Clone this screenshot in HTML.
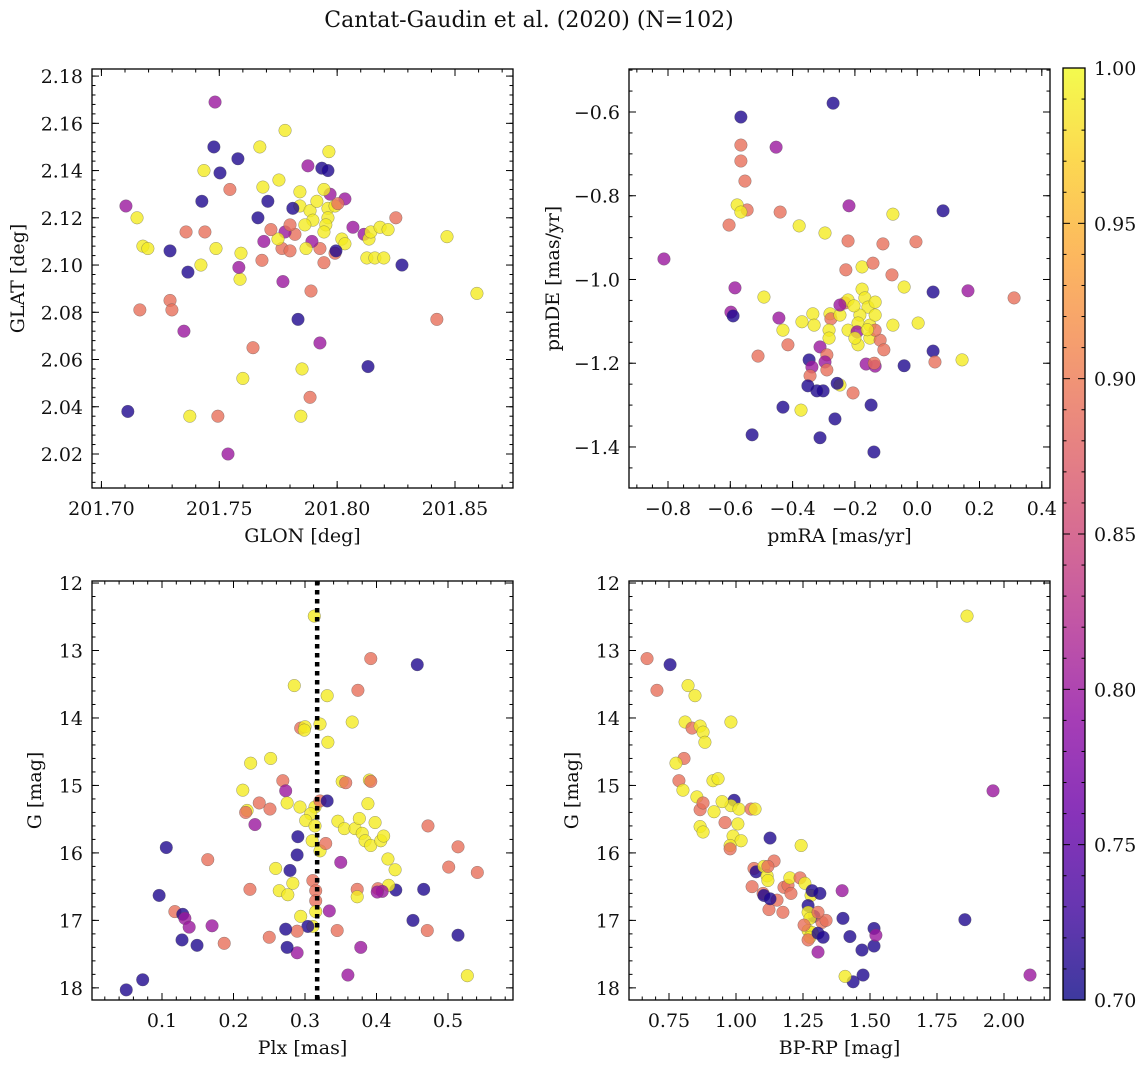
<!DOCTYPE html>
<html><head><meta charset="utf-8">
<style>
html,body{margin:0;padding:0;background:#fff;}
svg{display:block;font-family:"DejaVu Serif","Liberation Serif",serif;}
</style></head>
<body>
<svg id="fig" width="1148" height="1067" viewBox="0 0 1148 1067" xmlns="http://www.w3.org/2000/svg">
<text x="529" y="27" font-size="22" text-anchor="middle" fill="#111">Cantat-Gaudin et al. (2020) (N=102)</text>
</svg>
<script>
// ---- Panel 1: GLON vs GLAT ----
const glon=[201.7482,201.7477,201.7503,201.7579,201.7435,201.7426,201.7672,201.7779,201.7876,201.7935,201.7685,201.7753,201.7545,201.7104,201.7151,201.7176,201.7197,201.7291,201.7359,201.7439,201.7486,201.7422,201.7367,201.7592,201.7588,201.7583,201.7163,201.7291,201.7299,201.7350,201.7112,201.7375,201.7494,201.7537,201.7600,201.7643,201.7846,201.7885,201.7851,201.7834,201.7889,201.7927,201.7770,201.8131,201.8423,201.8593,201.8466,201.8275,201.8249,201.8126,201.8160,201.8114,201.8033,201.8067,201.8020,201.7970,201.7961,201.7965,201.7961,201.7991,201.7944,201.7927,201.7842,201.7842,201.7812,201.7885,201.7897,201.7863,201.7821,201.7779,201.7766,201.7800,201.7706,201.7664,201.7689,201.7749,201.7719,201.7681,201.7991,201.7961,201.7952,201.7944,201.8033,201.7893,201.7868,201.7995,201.8135,201.8143,201.8182,201.8216,201.8198,201.7800,201.7944,201.8003,201.7914];
const glat=[2.169,2.150,2.139,2.145,2.140,2.127,2.150,2.157,2.142,2.141,2.133,2.136,2.132,2.125,2.120,2.108,2.107,2.106,2.114,2.114,2.107,2.100,2.097,2.105,2.094,2.099,2.081,2.085,2.081,2.072,2.038,2.036,2.036,2.020,2.052,2.065,2.036,2.044,2.056,2.077,2.089,2.067,2.093,2.057,2.077,2.088,2.112,2.100,2.120,2.103,2.103,2.113,2.128,2.116,2.111,2.130,2.124,2.148,2.140,2.105,2.101,2.107,2.131,2.125,2.124,2.123,2.119,2.117,2.113,2.114,2.107,2.106,2.127,2.120,2.110,2.111,2.115,2.102,2.125,2.120,2.117,2.114,2.109,2.110,2.107,2.106,2.111,2.114,2.116,2.115,2.103,2.117,2.132,2.126,2.127];
const prob1=[.80,.71,.71,.71,.99,.71,.99,.99,.80,.71,.99,.99,.89,.80,.99,.99,.99,.71,.89,.89,.99,.99,.71,.99,.99,.80,.89,.89,.89,.80,.71,.99,.89,.80,.99,.89,.99,.89,.99,.71,.89,.80,.80,.71,.89,.99,.99,.71,.89,.99,.99,.80,.80,.80,.99,.80,.99,.99,.71,.89,.89,.89,.99,.99,.71,.99,.99,.99,.89,.80,.89,.89,.71,.71,.80,.99,.89,.89,.99,.99,.99,.99,.99,.80,.99,.71,.99,.99,.99,.99,.99,.89,.99,.89,.99];
// ---- Panel 2: pmRA vs pmDE ----
const pmra=[-0.566,-0.270,-0.453,-0.566,-0.566,-0.553,-0.546,-0.578,-0.566,-0.604,-0.440,-0.379,-0.296,-0.219,-0.078,0.083,-0.813,-0.222,-0.110,-0.004,-0.229,-0.177,-0.142,-0.081,-0.585,-0.042,-0.177,-0.168,-0.158,-0.135,-0.184,-0.190,-0.152,0.163,0.311,0.051,-0.492,-0.598,-0.591,-0.444,-0.431,-0.415,-0.511,-0.335,-0.331,-0.370,-0.280,-0.277,-0.248,-0.232,-0.222,-0.193,-0.152,-0.190,-0.119,-0.107,-0.078,0.003,-0.135,-0.135,-0.312,-0.290,-0.283,-0.296,-0.347,-0.338,-0.290,-0.302,-0.322,-0.248,-0.257,-0.344,-0.373,-0.431,-0.351,-0.164,-0.135,-0.138,-0.206,-0.148,-0.530,-0.312,-0.264,-0.139,-0.042,0.051,0.057,0.144,-0.222,-0.203,-0.248,-0.283,-0.200,-0.160];
const pmde=[-0.612,-0.579,-0.684,-0.679,-0.717,-0.765,-0.834,-0.822,-0.839,-0.870,-0.839,-0.872,-0.889,-0.824,-0.844,-0.836,-0.951,-0.908,-0.915,-0.910,-0.977,-0.970,-0.961,-0.989,-1.020,-1.018,-1.023,-1.044,-1.066,-1.054,-1.085,-1.104,-1.109,-1.027,-1.044,-1.030,-1.042,-1.078,-1.087,-1.092,-1.121,-1.156,-1.183,-1.082,-1.109,-1.101,-1.082,-1.094,-1.085,-1.056,-1.121,-1.125,-1.140,-1.156,-1.145,-1.168,-1.109,-1.104,-1.085,-1.121,-1.161,-1.180,-1.121,-1.197,-1.192,-1.209,-1.216,-1.266,-1.266,-1.252,-1.248,-1.230,-1.312,-1.305,-1.254,-1.202,-1.207,-1.200,-1.271,-1.300,-1.371,-1.378,-1.333,-1.412,-1.206,-1.171,-1.197,-1.192,-1.049,-1.063,-1.061,-1.140,-1.140,-1.120];
const prob2=[.71,.71,.80,.89,.89,.89,.89,.99,.99,.89,.89,.99,.99,.80,.99,.71,.80,.89,.89,.89,.89,.99,.89,.89,.80,.99,.99,.99,.99,.99,.99,.99,.99,.80,.89,.71,.99,.80,.71,.80,.99,.89,.89,.99,.99,.99,.99,.89,.99,.89,.99,.80,.99,.99,.89,.89,.99,.99,.99,.89,.80,.89,.99,.80,.71,.80,.89,.71,.71,.99,.71,.89,.99,.71,.71,.80,.80,.89,.89,.71,.71,.71,.71,.71,.71,.71,.89,.99,.99,.99,.80,.99,.99,.99];
// ---- Panel 3: Plx vs G ----
const plx=[0.313,0.457,0.392,0.285,0.374,0.331,0.294,0.300,0.299,0.321,0.366,0.332,0.224,0.252,0.269,0.273,0.213,0.236,0.275,0.219,0.217,0.230,0.251,0.314,0.308,0.301,0.293,0.321,0.331,0.310,0.290,0.321,0.329,0.314,0.352,0.357,0.346,0.355,0.370,0.376,0.388,0.380,0.384,0.392,0.406,0.398,0.410,0.390,0.392,0.472,0.514,0.501,0.541,0.426,0.416,0.427,0.417,0.402,0.408,0.466,0.401,0.373,0.373,0.350,0.289,0.259,0.279,0.283,0.264,0.276,0.223,0.164,0.106,0.187,0.311,0.315,0.315,0.315,0.311,0.294,0.334,0.304,0.289,0.273,0.289,0.275,0.250,0.345,0.378,0.360,0.451,0.471,0.514,0.527,0.118,0.129,0.132,0.138,0.170,0.128,0.149,0.096,0.073,0.050];
const gmag3=[12.49,13.21,13.12,13.52,13.59,13.67,14.15,14.13,14.18,14.09,14.06,14.36,14.67,14.60,14.93,15.08,15.07,15.26,15.26,15.37,15.40,15.58,15.35,15.32,15.42,15.52,15.32,15.23,15.23,15.82,15.76,15.97,15.86,15.60,14.94,14.96,15.53,15.64,15.64,15.49,15.27,15.71,15.82,15.89,15.82,15.55,15.75,14.92,14.94,15.60,15.91,16.21,16.29,16.25,16.09,16.55,16.48,16.53,16.57,16.54,16.58,16.54,16.65,16.14,16.03,16.23,16.26,16.45,16.56,16.62,16.54,16.10,15.92,17.34,16.41,16.56,16.71,16.87,17.09,16.94,16.86,17.09,17.16,17.13,17.48,17.40,17.25,17.15,17.40,17.81,17.00,17.15,17.22,17.82,16.87,16.91,16.97,17.10,17.08,17.29,17.37,16.63,17.88,18.03];
const prob3=[.99,.71,.89,.99,.89,.99,.89,.99,.99,.99,.99,.99,.99,.99,.89,.80,.99,.89,.99,.99,.89,.80,.89,.99,.99,.99,.99,.89,.71,.99,.71,.99,.89,.99,.99,.89,.99,.99,.99,.99,.99,.99,.99,.99,.99,.99,.99,.99,.89,.89,.89,.89,.89,.99,.99,.71,.99,.89,.80,.71,.80,.89,.99,.80,.71,.99,.71,.99,.99,.99,.89,.89,.71,.89,.89,.89,.89,.99,.99,.99,.80,.71,.89,.71,.80,.71,.89,.89,.80,.80,.71,.89,.71,.99,.89,.71,.80,.80,.80,.71,.71,.71,.71,.71];
// ---- Panel 4: BP-RP vs G ----
const bprp=[0.668,0.705,0.754,0.821,0.847,0.810,0.836,0.866,0.877,0.884,0.981,0.806,0.776,0.787,0.802,0.854,0.866,0.877,0.914,0.933,0.993,0.981,1.011,1.056,1.071,0.948,0.918,0.866,0.877,0.959,1.007,0.989,1.019,0.978,0.978,1.127,1.243,1.067,1.075,1.104,1.116,1.119,1.142,1.119,1.060,1.101,1.179,1.194,1.205,1.153,1.123,1.175,1.201,1.239,1.104,1.127,1.257,1.280,1.313,1.284,1.269,1.291,1.269,1.276,1.269,1.284,1.276,1.254,1.269,1.321,1.336,1.306,1.306,1.325,1.306,1.396,1.399,1.425,1.515,1.515,1.522,1.470,1.437,1.407,1.474,1.862,1.959,1.854,2.097];
const gmag4=[13.12,13.59,13.21,13.52,13.67,14.06,14.15,14.12,14.21,14.36,14.06,14.60,14.67,14.93,15.07,15.17,15.36,15.26,14.93,14.90,15.22,15.30,15.35,15.35,15.35,15.24,15.39,15.61,15.69,15.55,15.57,15.75,15.82,15.89,15.94,15.78,15.89,16.23,16.28,16.20,16.34,16.41,16.12,16.20,16.50,16.60,16.51,16.48,16.60,16.70,16.84,16.88,16.37,16.37,16.63,16.68,16.45,16.63,16.60,16.56,16.78,16.94,16.88,16.97,17.15,17.18,17.25,17.07,17.29,17.03,17.00,16.88,17.19,17.25,17.47,16.56,16.97,17.24,17.12,17.38,17.22,17.44,17.91,17.83,17.81,12.49,15.08,16.99,17.81];
const prob4=[.89,.89,.71,.99,.99,.99,.89,.99,.99,.99,.99,.89,.99,.89,.99,.99,.89,.89,.99,.99,.71,.99,.99,.89,.99,.99,.99,.99,.99,.89,.99,.99,.99,.99,.89,.71,.99,.89,.71,.99,.99,.99,.89,.89,.89,.89,.89,.89,.89,.89,.89,.89,.99,.89,.71,.71,.99,.99,.71,.71,.71,.71,.99,.99,.99,.99,.99,.89,.89,.89,.89,.89,.71,.71,.80,.80,.71,.71,.71,.71,.80,.71,.71,.99,.71,.99,.80,.71,.80];
// ---- Colorbar ----
const cbTicks=[0.70,0.75,0.80,0.85,0.90,0.95,1.00];
const pthr=0.317;

const NS='http://www.w3.org/2000/svg';
const svg=document.getElementById('fig');
const TF=19;
function mk(tag,attrs,parent){const e=document.createElementNS(NS,tag);for(const k in attrs)e.setAttribute(k,attrs[k]);(parent||svg).appendChild(e);return e;}
const stops=[[13,8,135],[65,4,157],[106,0,168],[143,13,164],[177,42,144],[204,71,120],[225,100,98],[242,132,75],[252,166,54],[252,206,37],[240,249,33]];
function plasma(t){t=Math.max(0,Math.min(1,t));const f=t*10,i=Math.min(9,Math.floor(f)),r=f-i;const a=stops[i],b=stops[i+1];return 'rgb('+a.map((v,k)=>Math.round(v+(b[k]-v)*r)).join(',')+')';}
function pcol(p){return plasma((p-0.7)/0.3);}
function fmtMinus(s){return s.replace('-','\u2212');}

function panel(o){
  const g=mk('g',{});
  
  
  const sx=v=>o.L+(v-o.xmin)/(o.xmax-o.xmin)*(o.R-o.L);
  const sy=o.yinv? v=>o.T+(v-o.ymin)/(o.ymax-o.ymin)*(o.B-o.T) : v=>o.B-(v-o.ymin)/(o.ymax-o.ymin)*(o.B-o.T);
  const pg=mk('g',{},g);
  
  
  for(let i=0;i<o.xs.length;i++){
    const c=mk('circle',{cx:sx(o.xs[i]),cy:sy(o.ys[i]),r:6.3,fill:pcol(o.ps[i]),'fill-opacity':0.8,stroke:'#555','stroke-opacity':0.6,'stroke-width':0.5},pg);
    
    
  }
  if(o.vline!==undefined){
    const l=mk('line',{x1:sx(o.vline),x2:sx(o.vline),y1:o.T,y2:o.B,stroke:'#000','stroke-width':4.5,'stroke-dasharray':'4.5,4.5'},g);
    
    
  }
  const tg=mk('g',{stroke:'#000','stroke-width':1},g);
  const eps=1e-9;
  function ticksX(step,len){const s=Math.ceil((o.xmin-eps)/step);for(let k=s;k*step<=o.xmax+eps;k++){const x=sx(k*step);mk('line',{x1:x,x2:x,y1:o.B,y2:o.B-len},tg);mk('line',{x1:x,x2:x,y1:o.T,y2:o.T+len},tg);}}
  function ticksY(step,len){const lo=Math.min(o.ymin,o.ymax),hi=Math.max(o.ymin,o.ymax);const s=Math.ceil((lo-eps)/step);for(let k=s;k*step<=hi+eps;k++){const y=sy(k*step);mk('line',{x1:o.L,x2:o.L+len,y1:y,y2:y},tg);mk('line',{x1:o.R,x2:o.R-len,y1:y,y2:y},tg);}}
  ticksX(o.xmaj,7);ticksX(o.xmin_step,3.5);ticksY(o.ymaj,7);ticksY(o.ymin_step,3.5);
  const fr=mk('rect',{x:o.L,y:o.T,width:o.R-o.L,height:o.B-o.T,fill:'none',stroke:'#000','stroke-width':1.3},g);
  
  
  const xs0=Math.ceil((o.xmin-eps)/o.xmaj);
  for(let k=xs0;k*o.xmaj<=o.xmax+eps;k++){const v=k*o.xmaj;const t=mk('text',{x:sx(v),y:o.B+27,'font-size':TF,'text-anchor':'middle',fill:'#111'},g);t.textContent=fmtMinus(v.toFixed(o.xdec));
    
    }
  const lo=Math.min(o.ymin,o.ymax),hi=Math.max(o.ymin,o.ymax);
  const ys0=Math.ceil((lo-eps)/o.ymaj);
  for(let k=ys0;k*o.ymaj<=hi+eps;k++){const v=k*o.ymaj;const t=mk('text',{x:o.L-9,y:sy(v)+7,'font-size':TF,'text-anchor':'end',fill:'#111'},g);t.textContent=fmtMinus(v.toFixed(o.ydec));
    
    }
  const xl=mk('text',{x:(o.L+o.R)/2,y:o.B+54,'font-size':TF,'text-anchor':'middle',fill:'#111'},g);xl.textContent=o.xlabel;
  
  
  const yl=mk('text',{x:o.ylx,y:(o.T+o.B)/2,'font-size':TF,'text-anchor':'middle',fill:'#111',transform:'rotate(-90 '+o.ylx+' '+((o.T+o.B)/2)+')'},g);yl.textContent=o.ylabel;
  
  
}

panel({name:'glon-glat-panel',L:92,R:513,T:69,B:488,xmin:201.6960,xmax:201.8746,ymin:2.0056,ymax:2.1830,xs:glon,ys:glat,ps:prob1,xmaj:0.05,xmin_step:0.01,ymaj:0.02,ymin_step:0.004,xdec:2,ydec:2,xlabel:'GLON [deg]',ylabel:'GLAT [deg]',ylx:24});
panel({name:'propermotion-panel',L:629,R:1050,T:69,B:488,xmin:-0.9252,xmax:0.4263,ymin:-1.498,ymax:-0.4973,xs:pmra,ys:pmde,ps:prob2,xmaj:0.2,xmin_step:0.05,ymaj:0.2,ymin_step:0.05,xdec:1,ydec:1,xlabel:'pmRA [mas/yr]',ylabel:'pmDE [mas/yr]',ylx:559});
panel({name:'parallax-panel',L:92,R:513,T:581,B:1000,xmin:0.0021,xmax:0.5909,ymin:11.97,ymax:18.18,yinv:true,xs:plx,ys:gmag3,ps:prob3,xmaj:0.1,xmin_step:0.02,ymaj:1,ymin_step:0.2,xdec:1,ydec:0,xlabel:'Plx [mas]',ylabel:'G [mag]',ylx:41,vline:pthr});
panel({name:'cmd-panel',L:629,R:1050,T:581,B:1000,xmin:0.6007,xmax:2.1716,ymin:11.97,ymax:18.18,yinv:true,xs:bprp,ys:gmag4,ps:prob4,xmaj:0.25,xmin_step:0.05,ymaj:1,ymin_step:0.2,xdec:2,ydec:0,xlabel:'BP-RP [mag]',ylabel:'G [mag]',ylx:578});

(function(){
  const L=1063,R=1085,T=68,B=1000,vmin=0.7,vmax=1.0;
  const g=mk('g',{});
  
  
  const defs=mk('defs',{},g);
  const lg=mk('linearGradient',{id:'cbg',x1:0,y1:1,x2:0,y2:0},defs);
  for(let i=0;i<=20;i++){mk('stop',{offset:i/20,'stop-color':plasma(i/20),'stop-opacity':0.8},lg);}
  const r=mk('rect',{x:L,y:T,width:R-L,height:B-T,fill:'url(#cbg)',stroke:'#000','stroke-width':1.3},g);
  
  
  const sy=v=>B-(v-vmin)/(vmax-vmin)*(B-T);
  for(let k=70;k<=100;k++){const y=sy(k/100);const maj=k%5===0;mk('line',{x1:R,x2:R-(maj?7:3.5),y1:y,y2:y,stroke:'#000','stroke-width':1},g);mk('line',{x1:L,x2:L+(maj?7:3.5),y1:y,y2:y,stroke:'#000','stroke-width':1},g);}
  cbTicks.forEach(v=>{const t=mk('text',{x:R+9,y:sy(v)+7,'font-size':TF,fill:'#111'},g);t.textContent=v.toFixed(2);
    
    });
})();
</script>
</body></html>
